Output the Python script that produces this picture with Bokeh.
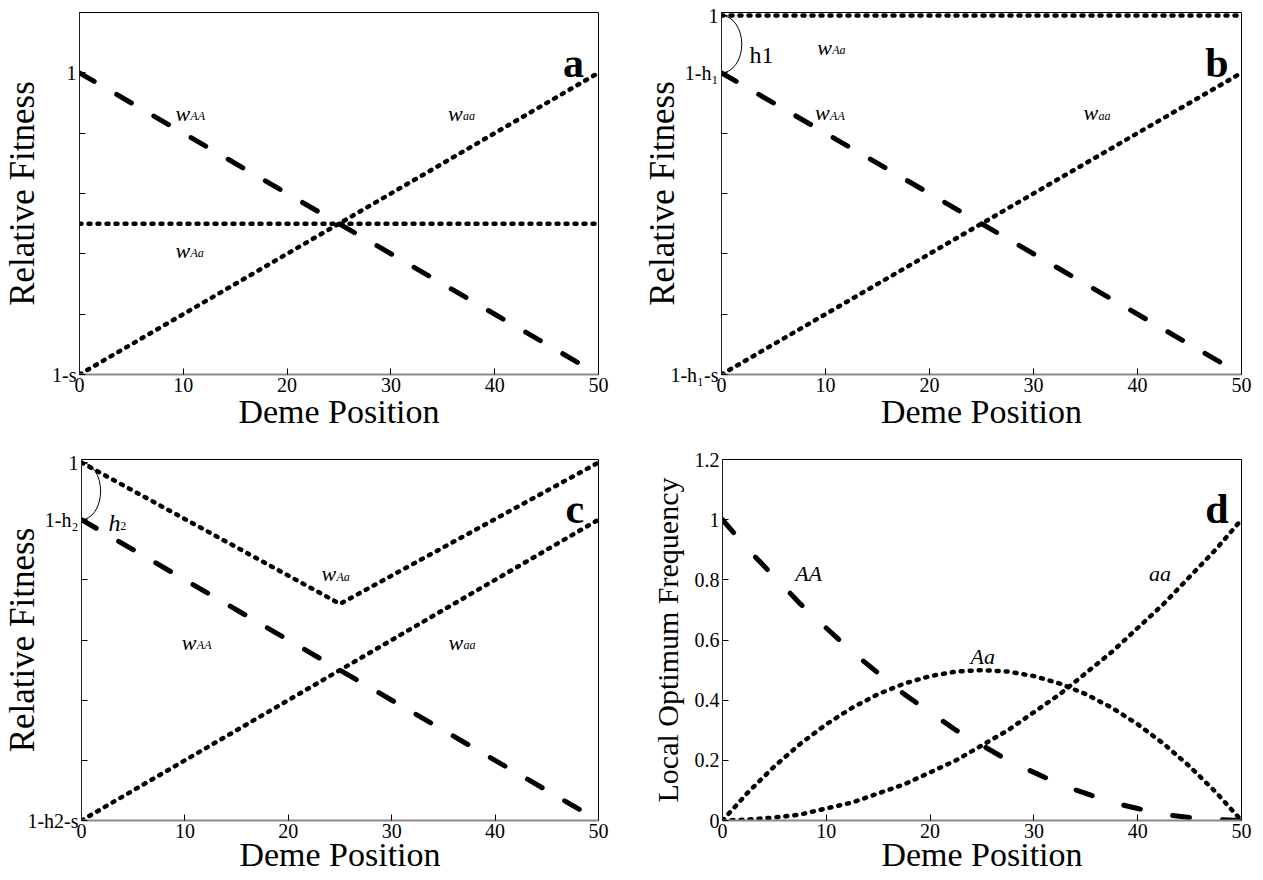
from bokeh.plotting import figure
from bokeh.models import Range1d, FixedTicker
from bokeh.layouts import column, row
from bokeh.core.properties import value
from bokeh.embed import file_html
from bokeh.resources import INLINE

# ---- data ---------------------------------------------------------------
deme = [0, 25, 50]

# fitness is drawn in tick units: 0 = lowest fitness, 5 = 1 (or 1-h), 6 = top
a_wAA = [5, 2.5, 0]
a_waa = [0, 2.5, 5]
a_wAa = [2.5, 2.5, 2.5]

b_wAA = [5, 2.5, 0]
b_waa = [0, 2.5, 5]
b_wAa = [5.95, 5.95, 5.95]

c_wAA = [5, 2.5, 0]
c_waa = [0, 2.5, 5]
c_wAa = [5.95, 3.6, 5.95]

fit_ticks = [0, 1, 2, 3, 4, 5, 6]
a_tick_labels = {0: "1-s", 5: "1"}
b_tick_labels = {0: "1-h\u2081-s", 5: "1-h\u2081", 5.95: "1"}
c_tick_labels = {0: "1-h2-s", 5: "1-h\u2082", 5.95: "1"}

deme_fine = [0, 2.5, 5, 7.5, 10, 12.5, 15, 17.5, 20, 22.5, 25,
             27.5, 30, 32.5, 35, 37.5, 40, 42.5, 45, 47.5, 50]
d_AA = [1.0, 0.90, 0.81, 0.72, 0.64, 0.56, 0.49, 0.42, 0.36, 0.30, 0.25,
        0.20, 0.16, 0.12, 0.09, 0.06, 0.04, 0.02, 0.01, 0.003, 0.0]
d_Aa = [0.0, 0.095, 0.18, 0.255, 0.32, 0.375, 0.42, 0.455, 0.48, 0.495, 0.5,
        0.495, 0.48, 0.455, 0.42, 0.375, 0.32, 0.255, 0.18, 0.095, 0.0]
d_aa = [0.0, 0.003, 0.01, 0.02, 0.04, 0.06, 0.09, 0.12, 0.16, 0.20, 0.25,
        0.30, 0.36, 0.42, 0.49, 0.56, 0.64, 0.72, 0.81, 0.90, 1.0]
freq_ticks = [0, 0.2, 0.4, 0.6, 0.8, 1.0, 1.2]
freq_tick_labels = {0: "0", 0.2: "0.2", 0.4: "0.4", 0.6: "0.6",
                    0.8: "0.8", 1.0: "1", 1.2: "1.2"}

x_ticks = [0, 10, 20, 30, 40, 50]

SERIF = "Liberation Serif"


def panel(width, height, left, right, top, bottom, ymax, yticks, ylabels,
          ylabel, ylabel_size, ylabel_standoff, xlabel_standoff):
    p = figure(width=width, height=height, output_backend="svg",
               toolbar_location=None, x_range=Range1d(0, 50),
               y_range=Range1d(0, ymax),
               min_border_left=left, min_border_right=right,
               min_border_top=top, min_border_bottom=bottom)
    p.xgrid.visible = False
    p.ygrid.visible = False
    p.outline_line_color = "black"
    p.outline_line_width = 1
    p.background_fill_color = "white"
    p.border_fill_color = "white"

    xa = p.xaxis[0]
    xa.ticker = FixedTicker(ticks=x_ticks)
    xa.axis_label = "Deme Position"
    xa.axis_line_color = "#8a8a8a"
    xa.axis_line_width = 2
    xa.axis_label_standoff = xlabel_standoff
    xa.axis_label_text_font_size = "34px"

    ya = p.yaxis[0]
    ya.ticker = FixedTicker(ticks=yticks)
    ya.major_label_overrides = {t: ylabels.get(t, "") for t in yticks}
    ya.axis_label = ylabel
    ya.axis_line_color = "#222222"
    ya.axis_line_width = 1
    ya.axis_label_standoff = ylabel_standoff
    ya.axis_label_text_font_size = ylabel_size

    for ax in (xa, ya):
        ax.major_tick_in = 6
        ax.major_tick_out = 0
        ax.major_tick_line_color = "black"
        ax.minor_tick_line_color = None
        ax.major_label_standoff = 3
        ax.major_label_text_font = SERIF
        ax.major_label_text_font_size = "20px"
        ax.major_label_text_color = "black"
        ax.axis_label_text_font = SERIF
        ax.axis_label_text_font_style = "normal"
        ax.axis_label_text_color = "black"
    return p


def dashed(p, x, y, dash="17 26"):
    p.line(x, y, line_color="black", line_width=5, line_dash=dash,
           line_cap="round")


def dotted(p, x, y):
    p.line(x, y, line_color="black", line_width=4.5, line_dash="2 7",
           line_cap="round")


def w_label(p, x, y, sub):
    p.text(x=[x], y=[y], text=["w"], text_font=value(SERIF),
           text_font_style="italic", text_font_size="22px",
           text_baseline="alphabetic", text_align="left", text_color="black")
    p.text(x=[x], y=[y], text=[sub], x_offset=15, y_offset=3,
           text_font=value(SERIF), text_font_style="italic",
           text_font_size="12px", text_baseline="alphabetic",
           text_align="left", text_color="black")


def tag(p, x, y, letter):
    p.text(x=[x], y=[y], text=[letter], text_font=value(SERIF),
           text_font_style="bold", text_font_size="42px",
           text_baseline="alphabetic", text_align="right", text_color="black")


def plain(p, x, y, s, size="22px", style="italic", dy=0):
    p.text(x=[x], y=[y], text=[s], y_offset=dy, text_font=value(SERIF),
           text_font_style=style, text_font_size=size,
           text_baseline="alphabetic", text_align="left", text_color="black")


# ---- panel a ------------------------------------------------------------
pa = panel(631, 440, 79, 33, 12, 66, 6, fit_ticks, a_tick_labels,
           "Relative Fitness", "35px", 7, -2)
dashed(pa, deme, a_wAA)
dotted(pa, deme, a_waa)
dotted(pa, deme, a_wAa)
w_label(pa, 9.25, 4.33, "AA")
w_label(pa, 35.5, 4.33, "aa")
w_label(pa, 9.25, 2.06, "Aa")
tag(pa, 48.6, 5.17, "a")

# ---- panel b ------------------------------------------------------------
pb = panel(632, 440, 90, 22, 12, 66, 6, [0, 1, 2, 3, 4, 5, 5.95],
           b_tick_labels, "Relative Fitness", "35px", -15, -2)
dashed(pb, deme, b_wAA)
dotted(pb, deme, b_waa)
dotted(pb, deme, b_wAa)
pb.ellipse(x=0, y=(b_wAa[0] + b_wAA[0]) / 2, width=3.9,
           height=b_wAa[0] - b_wAA[0], fill_color=None, line_color="black",
           line_width=1)
plain(pb, 2.7, 5.29, "h1", size="24px", style="normal")
w_label(pb, 9.2, 5.42, "Aa")
w_label(pb, 9.0, 4.34, "AA")
w_label(pb, 34.8, 4.34, "aa")
tag(pb, 48.75, 5.17, "b")

# ---- panel c ------------------------------------------------------------
pc = panel(631, 440, 79, 33, 19, 60, 6, [0, 1, 2, 3, 4, 5, 5.95],
           c_tick_labels, "Relative Fitness", "35px", -18, -5)
dashed(pc, deme, c_wAA)
dotted(pc, deme, c_waa)
dotted(pc, deme, c_wAa)
pc.ellipse(x=0, y=(c_wAa[0] + c_wAA[0]) / 2, width=3.7,
           height=c_wAa[0] - c_wAA[0], fill_color=None, line_color="black",
           line_width=1)
plain(pc, 2.6, 4.95, "h", size="24px")
plain(pc, 3.75, 4.95, "2", size="12px", style="normal", dy=3)
w_label(pc, 9.7, 2.96, "AA")
w_label(pc, 35.5, 2.96, "aa")
w_label(pc, 23.2, 4.1, "Aa")
tag(pc, 48.6, 5.17, "c")

# ---- panel d ------------------------------------------------------------
pd = panel(632, 440, 91, 22, 19, 60, 1.2, freq_ticks, freq_tick_labels,
           "Local Optimum Frequency", "30px", 8, -5)
dashed(pd, deme_fine, d_AA, dash="17 33")
dotted(pd, deme_fine, d_Aa)
dotted(pd, deme_fine, d_aa)
plain(pd, 7.0, 0.82, "AA")
plain(pd, 41.1, 0.82, "aa")
plain(pd, 23.9, 0.545, "Aa")
tag(pd, 48.75, 1.034, "d")

layout = column(row(pa, pb), row(pc, pd))
open("out.html", "w").write(file_html(layout, INLINE))
